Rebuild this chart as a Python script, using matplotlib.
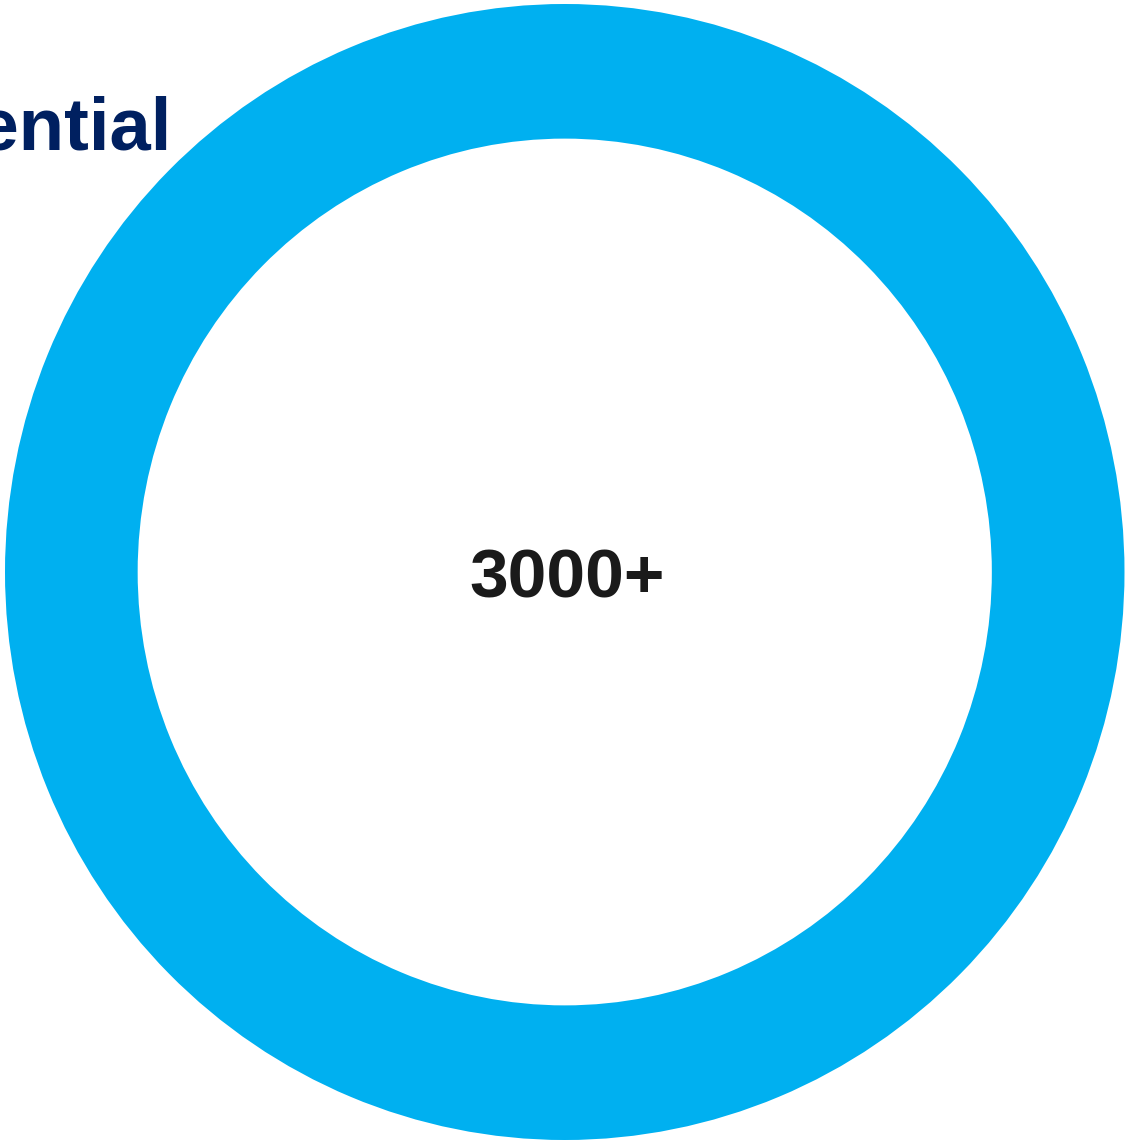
import matplotlib
matplotlib.use("Agg")
import matplotlib.pyplot as plt

# chart data
values = [3000]
center_label = "3000+"
title = "Potential"

W, H = 1127, 1141


def main():
    plt.rcParams["font.family"] = ["Liberation Sans", "DejaVu Sans"]
    fig = plt.figure(figsize=(W / 100, H / 100), dpi=100)

    # ring spans x 5..1124.5, y 4..1140 px (slightly taller than wide)
    ax = fig.add_axes([5 / W, 1 / H, 1119.5 / W, 1136 / H])
    ax.pie(
        values,
        colors=["#00B0F0"],
        startangle=90,
        counterclock=False,
        wedgeprops=dict(width=0.237, edgecolor="none"),
    )
    ax.set_aspect("auto")
    ax.set_xlim(-1, 1)
    ax.set_ylim(-1, 1)
    ax.axis("off")

    fig.text(
        567.5 / W, 1 - 598 / H, center_label,
        ha="center", va="baseline",
        fontsize=50, fontweight="bold", color="#1a1a1a",
    )
    fig.text(
        171 / W, 1 - 150 / H, title,
        ha="right", va="baseline",
        fontsize=53.5, fontweight="bold", color="#002060",
    )

    fig.savefig("out.png", dpi=100, facecolor="white")


if __name__ == "__main__":
    main()
